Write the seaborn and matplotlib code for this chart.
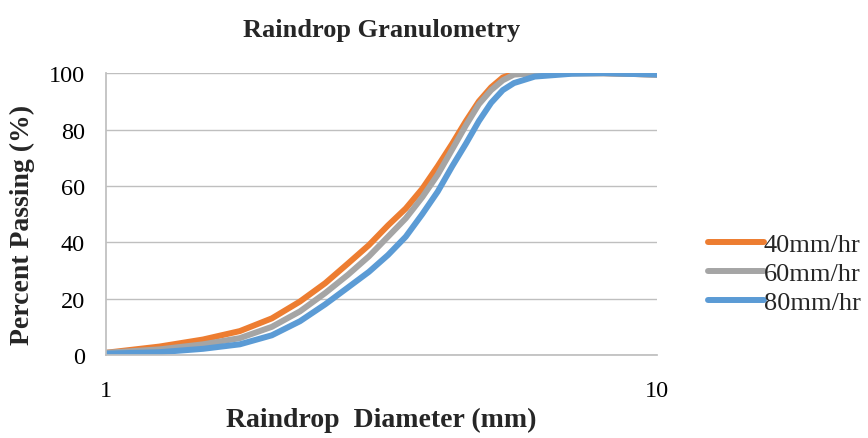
"""
Raindrop Granulometry – Siebkurven fuer drei Regenintensitaeten
"""
import matplotlib
matplotlib.use("Agg")
import matplotlib.pyplot as plt
import matplotlib.ticker as mticker
import pandas as pd
import seaborn as sns

diameter_mm = [1.0, 1.25, 1.5, 1.75, 2.0, 2.25, 2.5, 2.75, 3.0, 3.25, 3.5, 3.75,
               4.0, 4.25, 4.5, 4.75, 5.0, 5.25, 5.5, 6.0, 7.0, 8.0, 10.0]
pass_40 = [0.8, 3.0, 5.5, 8.5, 13.0, 19.0, 25.5, 32.5, 39, 46, 52, 59,
           67, 75, 83, 90, 95, 98.5, 99.8, 100, 100, 100, 99.5]
pass_60 = [0.8, 2.0, 3.8, 6.0, 10.0, 15.5, 22, 28.5, 35, 42, 48.5, 56,
           64, 73, 81.5, 89, 94, 97.5, 99.5, 100, 100, 100, 99.5]
pass_80 = [0.5, 1.0, 2.2, 3.8, 7.0, 12, 18, 24, 29.5, 35.5, 42, 50,
           58, 67, 75, 83, 89.5, 94, 96.5, 98.8, 99.8, 100, 99.5]
series = ["40mm/hr", "60mm/hr", "80mm/hr"]
colors = ["#ED7D31", "#A5A5A5", "#5B9BD5"]

df = pd.concat([
    pd.DataFrame({"d": diameter_mm, "p": vals, "rate": name})
    for name, vals in zip(series, [pass_40, pass_60, pass_80])
])

sns.set_theme(style="white")
plt.rcParams["font.family"] = ["Liberation Serif", "DejaVu Serif"]

fig = plt.figure(figsize=(8.68, 4.39), dpi=100)
ax = fig.add_axes([0.122, 0.189, 0.635, 0.642])

sns.lineplot(data=df, x="d", y="p", hue="rate", palette=colors, hue_order=series,
             linewidth=4.3, ax=ax, sort=True, solid_capstyle="round",
             solid_joinstyle="round")

ax.set_xscale("log")
ax.set_xlim(1, 10)
ax.set_ylim(0, 100)
ax.set_yticks(range(0, 101, 20))
ax.xaxis.set_major_locator(mticker.FixedLocator([1, 10]))
ax.xaxis.set_major_formatter(mticker.FormatStrFormatter("%g"))
ax.xaxis.set_minor_locator(mticker.NullLocator())
ax.grid(axis="y", color="#BFBFBF", linewidth=1)
ax.grid(axis="x", visible=False)
for s in ["top", "right"]:
    ax.spines[s].set_visible(False)
for s in ["left", "bottom"]:
    ax.spines[s].set_color("#BFBFBF")
ax.tick_params(axis="both", labelsize=17.5, colors="#BFBFBF", labelcolor="black",
               length=6, width=1, direction="out")
ax.tick_params(axis="y", pad=9)
ax.tick_params(axis="x", pad=12)

ax.set_title("Raindrop Granulometry", fontsize=19, fontweight="bold", pad=27)
ax.set_xlabel("Raindrop  Diameter (mm)", fontsize=20, fontweight="bold", labelpad=4)
ax.set_ylabel("Percent Passing (%)", fontsize=20, fontweight="bold")
ax.yaxis.set_label_coords(-0.128, 0.465)

ax.legend(loc="center left", bbox_to_anchor=(1.05, 0.29), frameon=False,
          fontsize=19, handlelength=2.1, handletextpad=0.0, labelspacing=0.2)

fig.savefig("out.png", dpi=100)
